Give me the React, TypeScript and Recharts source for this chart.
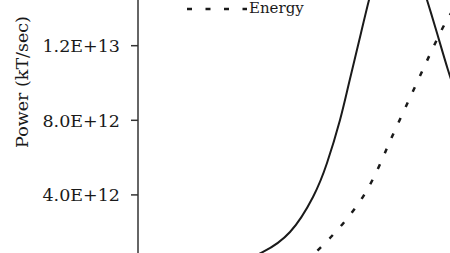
import { Legend, Line, LineChart, XAxis, YAxis } from 'recharts'

// time in arbitrary units, power / energy in units of 1E+12
const powerTime = [10.2, 12.5, 15.2, 17.5, 18.9, 20.2, 21.1, 22.3, 23.1, 24.0, 26.0, 27.7, 28.9, 29.9, 31.0, 32.0]
const powerValue = [0.4, 0.94, 2.01, 3.89, 5.71, 8.02, 10.0, 12.68, 14.45, 16.33, 19.55, 16.86, 14.45, 12.68, 10.7, 9.1]

const energyTime = [16.7, 19.2, 22.6, 24.9, 26.4, 29.4, 30.9, 32.0]
const energyValue = [0.4, 1.69, 3.99, 6.51, 8.28, 11.77, 13.38, 14.34]

const yTicks = [4e12, 8e12, 1.2e13]

const powerData = powerTime.map((t, i) => ({ t, v: powerValue[i] * 1e12 }))
const energyData = energyTime.map((t, i) => ({ t, v: energyValue[i] * 1e12 }))

const font = '"DejaVu Serif", serif'
const ink = '#1a1a1a'

function EnergyLegend() {
    return (
        <svg width={450} height={20} style={{ display: 'block' }}>
            <line x1={187} y1={9} x2={247} y2={9} stroke={ink} strokeWidth={2.5} strokeDasharray="5 13.5" />
            <text x={249} y={13} fontFamily={font} fontSize={15} fill={ink}>
                Energy
            </text>
        </svg>
    )
}

export default function App() {
    return (
        <div style={{ position: 'absolute', left: 0, top: 0, background: '#fff' }}>
            <LineChart width={450} height={253} margin={{ top: 0, right: 0, left: 0, bottom: 0 }}>
                <XAxis dataKey="t" type="number" domain={[0, 31.2]} hide allowDataOverflow />
                <YAxis
                    dataKey="v"
                    type="number"
                    width={138}
                    domain={[0.885e12, 14.45e12]}
                    allowDataOverflow
                    ticks={yTicks}
                    tickFormatter={(v: number) => v.toExponential(1).toUpperCase()}
                    tick={{ fill: ink, fontSize: 17.5, fontFamily: font }}
                    tickSize={7}
                    tickMargin={11}
                    stroke="#333"
                    strokeWidth={1.5}
                    label={{
                        content: () => (
                            <text
                                x={28}
                                y={82}
                                transform="rotate(-90 28 82)"
                                textAnchor="middle"
                                fontFamily={font}
                                fontSize={17.5}
                                fill={ink}
                            >
                                Power (kT/sec)
                            </text>
                        ),
                    }}
                />
                <Legend
                    content={() => <EnergyLegend />}
                    wrapperStyle={{ position: 'absolute', top: 0, left: 0, width: 450, height: 0, overflow: 'visible' }}
                />
                <Line
                    data={powerData}
                    dataKey="v"
                    type="natural"
                    stroke={ink}
                    strokeWidth={2}
                    dot={false}
                    isAnimationActive={false}
                    legendType="none"
                />
                <Line
                    data={energyData}
                    dataKey="v"
                    type="natural"
                    stroke={ink}
                    strokeWidth={2.5}
                    strokeDasharray="5 12"
                    dot={false}
                    isAnimationActive={false}
                    legendType="none"
                />
            </LineChart>
        </div>
    )
}
